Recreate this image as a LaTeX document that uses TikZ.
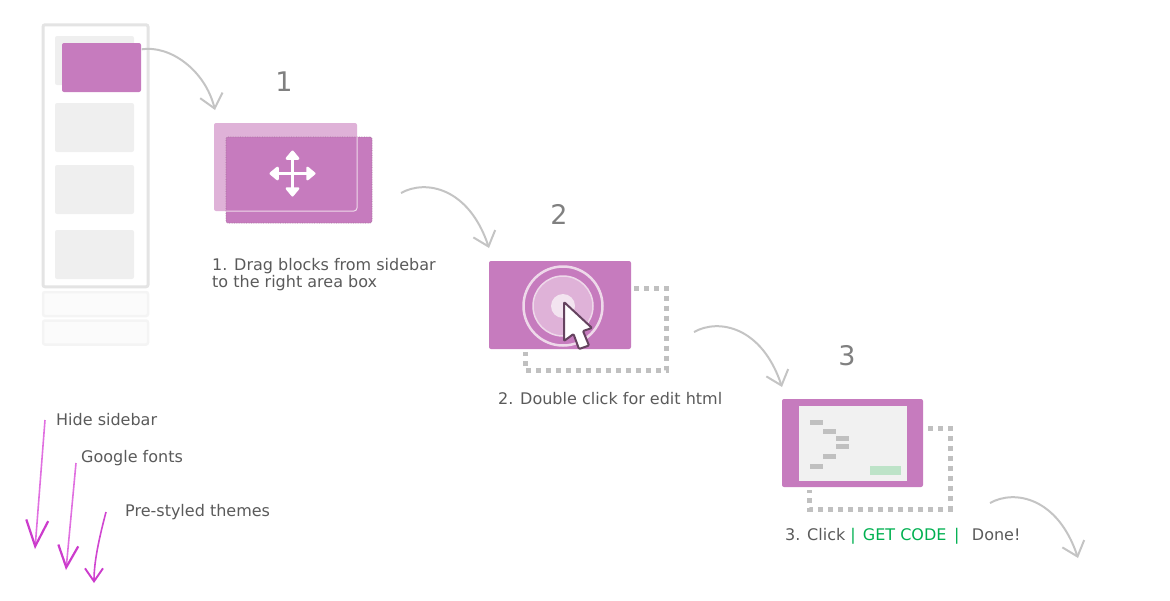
\documentclass[tikz,border=0pt]{standalone}
\usepackage{fontspec}
\setmainfont{DejaVu Sans}
\usepackage{tikz}
\usetikzlibrary{arrows.meta}
\definecolor{plum}{HTML}{C67BBE}
\definecolor{plumghost}{HTML}{DFB2D8}
\definecolor{plumpale}{HTML}{EED9EA}
\definecolor{plumedge}{HTML}{A8709F}
\definecolor{railgray}{HTML}{E4E4E4}
\definecolor{slotgray}{HTML}{EFEFEF}
\definecolor{swooshgray}{HTML}{C4C4C4}
\definecolor{dotgray}{HTML}{C0C0C0}
\definecolor{textgray}{HTML}{5A5A5A}
\definecolor{numgray}{HTML}{808080}
\definecolor{codegreen}{HTML}{00B050}
\definecolor{btngreen}{HTML}{BDE3C8}
\definecolor{pinkline}{HTML}{E070E0}
\definecolor{pinkhead}{HTML}{CC3CCC}

\begin{document}
\begin{tikzpicture}[x=1pt,y=-1pt,
    box/.style={rectangle,anchor=north west,inner sep=0pt,outer sep=0pt,rounded corners=2pt},
    slot/.style={box,fill=slotgray,minimum width=79pt,minimum height=49pt},
    card/.style={box,fill=plum,minimum width=142pt,minimum height=88pt},
    footpanel/.style={box,draw=slotgray!70,fill=slotgray!25,line width=2.5pt,minimum width=105pt,minimum height=24pt},
    minibar/.style={rectangle,anchor=north west,inner sep=0pt,fill=dotgray,minimum width=13pt,minimum height=5pt},
    label/.style={anchor=west,inner sep=0pt,text=textgray,font=\fontsize{16}{18}\selectfont},
    stepnum/.style={inner sep=0pt,text=numgray,font=\fontsize{27}{30}\selectfont},
    swoosh/.style={draw=swooshgray,line width=2pt,-{Straight Barb[length=13.5pt,width=23pt]}},
    pinkarrow/.style={draw=pinkline,line width=1.6pt},
    trail/.style={draw=dotgray,line width=5pt,dash pattern=on 5pt off 5pt},
    moveline/.style={white,line width=3pt,{Triangle[length=10pt,width=16pt,round]}-{Triangle[length=10pt,width=16pt,round]}}
  ]
  \useasboundingbox (0,0) rectangle (1170,600);

  % sidebar
  \node[box,draw=railgray,line width=3pt,minimum width=105pt,minimum height=262pt] (rail) at (43,24.8) {};
  \node[slot] (slot1) at (55,36) {};
  \node[slot] (slot2) at (55,103) {};
  \node[slot] (slot3) at (55,165) {};
  \node[slot] (slot4) at (55,230) {};
  \node[box,fill=plum,minimum width=79pt,minimum height=49pt] (picked) at (62,43) {};
  \node[footpanel] (foot1) at (43,292) {};
  \node[footpanel] (foot2) at (43,320.5) {};

  % step 1
  \node[stepnum] (num1) at (284,82) {1};
  \node[box,fill=plumghost,minimum width=143pt,minimum height=88pt] (ghost) at (214,123) {};
  \node[box,fill=plum,draw=plumedge,densely dotted,line width=.7pt,minimum width=146pt,minimum height=86pt] (drop) at (226,137) {};
  \draw[plumpale,line width=1pt,rounded corners=3pt] (357,137) -- (357,211) -- (226,211);
  \draw[moveline] (269.5,173.5) -- (315.5,173.5);
  \draw[moveline] (292.5,150.5) -- (292.5,196.5);
  \node[label,align=left] (text1) at (212,274.5) {1. Drag blocks from sidebar\\[-1pt]to the right area box};

  % step 2
  \node[stepnum] (num2) at (559,214) {2};
  \node[card] (card2) at (489,261) {};
  \node[circle,draw=plumpale,line width=2.5pt,minimum size=79pt,inner sep=0pt] (ringout) at (563,306) {};
  \node[circle,draw=plumpale,fill=plumghost,line width=1.5pt,minimum size=60pt,inner sep=0pt] (ringin) at (563,306) {};
  \node[circle,fill=plumpale!70!white,minimum size=24pt,inner sep=0pt] (ringdot) at (563,306) {};
  \draw[fill=white,draw=plumedge!60!black,line width=2pt,line join=round,rounded corners=1pt]
    (564,302) -- (564,341) -- (573.5,334) -- (579,349) -- (589,345.5) -- (583,331) -- (592,328) -- cycle;
  \draw[trail] (634,288) -- (666.5,288) -- (666.5,370) -- (525,370) -- (525,352);
  \node[label] (text2) at (498,398.5) {2. Double click for edit html};

  % step 3
  \node[stepnum] (num3) at (847,356) {3};
  \node[card,minimum width=141pt] (card3) at (782,399) {};
  \node[rectangle,anchor=north west,inner sep=0pt,fill=slotgray!90!white,minimum width=108pt,minimum height=75pt] (editor) at (799,406) {};
  \foreach \n/\bx/\by in {1/810/420,2/823/429,3/836/436,4/836/444,5/823/454,6/810/464}
    \node[minibar] (bar\n) at (\bx,\by) {};
  \node[rectangle,anchor=north west,inner sep=0pt,fill=btngreen,minimum width=31pt,minimum height=9pt] (getbtn) at (870,466) {};
  \draw[trail] (928,428) -- (950,428) -- (950,509) -- (809,509) -- (809,490);
  \node[label] (text3) at (785,536.5) {3. Click {\color{codegreen}|\hspace{2pt} GET CODE\hspace{2.5pt} |}\hspace{12.5pt}Done!};

  % gray swooshes
  \coordinate (from1) at (141.7,49.3);
  \coordinate (to1) at (215,110);
  \draw[swoosh] (from1) .. controls (170,45) and (205,70) .. (to1);
  \foreach \n/\sx/\sy in {2/401/193,3/694/332,4/990/503}{
    \coordinate (from\n) at (\sx,\sy);
    \coordinate (to\n) at (\sx+88,\sy+55);
    \draw[swoosh] (from\n) .. controls (\sx+25,\sy-14) and (\sx+68,\sy-5) .. (to\n);
  }

  % hints
  \node[label] (hint1) at (56,419.5) {Hide sidebar};
  \node[label] (hint2) at (81,458) {Google fonts};
  \node[label] (hint3) at (125,512) {Pre-styled themes};
  \coordinate (pinkfrom1) at (45,420);
  \coordinate (pinkto1) at (35,549);
  \coordinate (pinkfrom2) at (76,463);
  \coordinate (pinkto2) at (66,570);
  \coordinate (pinkfrom3) at (106,512);
  \coordinate (pinkto3) at (94,583);
  \draw[pinkarrow,-{Straight Barb[length=26pt,width=22pt,color=pinkhead,line width=2.2pt]}] (pinkfrom1) -- (pinkto1);
  \draw[pinkarrow,-{Straight Barb[length=22pt,width=20pt,color=pinkhead,line width=2.2pt]}] (pinkfrom2) -- (pinkto2);
  \draw[pinkarrow,draw=pinkhead!80!pinkline,-{Straight Barb[length=13pt,width=18pt,color=pinkhead,line width=1.9pt]}] (pinkfrom3) .. controls (100,535) and (94,560) .. (pinkto3);
\end{tikzpicture}
\end{document}
